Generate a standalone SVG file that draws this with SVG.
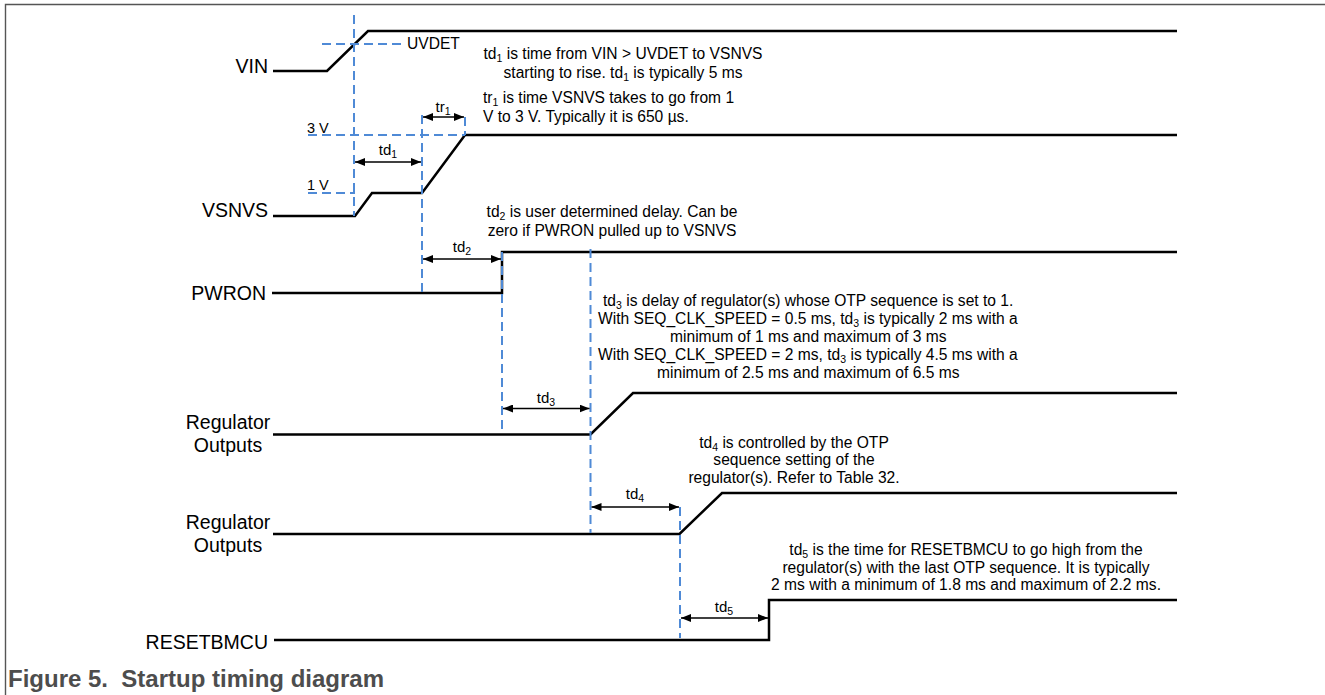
<svg xmlns="http://www.w3.org/2000/svg" width="1325" height="695" viewBox="0 0 1325 695">
<style>
.sig{fill:none;stroke:#000;stroke-width:2.5}
.dash{fill:none;stroke:#4f8ad6;stroke-width:2;stroke-dasharray:9 5}
.arr{fill:none;stroke:#000;stroke-width:1.5;marker-start:url(#ah);marker-end:url(#ah)}
.frame{fill:none;stroke:#555;stroke-width:1.4}
text{font-family:"Liberation Sans",Arial,sans-serif;fill:#000}
.lbl{font-size:19.5px;text-anchor:end}
.lblc{font-size:19.5px;text-anchor:middle}
.d{font-size:15.6px}
.c{text-anchor:middle}
.t{font-size:15px;text-anchor:middle}
.v{font-size:14.5px}
.s{font-size:10.5px}
.cap{font-size:24px;font-weight:bold;fill:#4d4d4d}
</style>
<defs>
<marker id="ah" viewBox="0 0 10 8" refX="10" refY="4" markerWidth="10" markerHeight="8" orient="auto-start-reverse" markerUnits="userSpaceOnUse"><path d="M0,0 L10,4 L0,8 z" fill="#000"/></marker>
</defs>
<rect width="1325" height="695" fill="#fff"/>
<path class="frame" d="M5.5,695 V4.5 H1325"/>

<g id="signals">
<g id="vin"><path class="sig" d="M273,71 H327 L368,31 H1177"/><text class="lbl" x="268" y="73">VIN</text></g>
<g id="vsnvs"><path class="sig" d="M273,216 H355 L372,193 H422 L465,135 H1177"/><text class="lbl" x="268" y="217">VSNVS</text></g>
<g id="pwron"><path class="sig" d="M272,293 H502 V252 H1177"/><text class="lbl" x="266" y="300">PWRON</text></g>
<g id="reg1"><path class="sig" d="M273,434.5 H590.5 L633,393 H1177"/><text class="lblc" x="228" y="429">Regulator</text><text class="lblc" x="228" y="452">Outputs</text></g>
<g id="reg2"><path class="sig" d="M273,534 H679.5 L722,493 H1177"/><text class="lblc" x="228" y="529">Regulator</text><text class="lblc" x="228" y="552">Outputs</text></g>
<g id="resetbmcu"><path class="sig" d="M274,640 H769 V600 H1177"/><text class="lbl" x="268" y="649">RESETBMCU</text></g>
</g>

<g id="guides">
<path class="dash" d="M322,44 H402"/>
<path class="dash" d="M308,135 H465"/>
<path class="dash" d="M308,193 H355"/>
<path class="dash" d="M354,15 V216"/>
<path class="dash" d="M422,115 V293"/>
<path class="dash" d="M465,117 V135"/>
<path class="dash" d="M502,252 V433"/>
<path class="dash" d="M590.5,249 V533"/>
<path class="dash" d="M680,507 V638"/>
<text class="d" x="407" y="49">UVDET</text>
<text class="v" x="307" y="133">3 V</text>
<text class="v" x="307" y="190">1 V</text>
</g>

<g id="connectors">
<line class="arr" x1="355" y1="162" x2="421" y2="162"/>
<line class="arr" x1="423" y1="117" x2="464" y2="117"/>
<line class="arr" x1="423" y1="259" x2="501" y2="259"/>
<line class="arr" x1="503" y1="408.5" x2="589.5" y2="408.5"/>
<line class="arr" x1="591.5" y1="507" x2="679" y2="507"/>
<line class="arr" x1="681" y1="618" x2="768" y2="618"/>
<text class="t" x="388" y="155">td<tspan class="s" dy="3">1</tspan></text>
<text class="t" x="443" y="112">tr<tspan class="s" dy="3">1</tspan></text>
<text class="t" x="462" y="252">td<tspan class="s" dy="3">2</tspan></text>
<text class="t" x="546" y="403">td<tspan class="s" dy="3">3</tspan></text>
<text class="t" x="635" y="499">td<tspan class="s" dy="3">4</tspan></text>
<text class="t" x="724" y="612">td<tspan class="s" dy="3">5</tspan></text>
</g>

<g id="notes">
<text class="d c" x="623" y="59">td<tspan class="s" dy="3">1</tspan><tspan dy="-3"> is time from VIN &gt; UVDET to VSNVS</tspan></text>
<text class="d c" x="623" y="78">starting to rise. td<tspan class="s" dy="3">1</tspan><tspan dy="-3"> is typically 5 ms</tspan></text>
<text class="d" x="483" y="103">tr<tspan class="s" dy="3">1</tspan><tspan dy="-3"> is time VSNVS takes to go from 1</tspan></text>
<text class="d" x="483" y="122">V to 3 V. Typically it is 650 µs.</text>
<text class="d c" x="612" y="217">td<tspan class="s" dy="3">2</tspan><tspan dy="-3"> is user determined delay. Can be</tspan></text>
<text class="d c" x="612" y="236">zero if PWRON pulled up to VSNVS</text>
<text class="d" x="603" y="306">td<tspan class="s" dy="3">3</tspan><tspan dy="-3"> is delay of regulator(s) whose OTP sequence is set to 1.</tspan></text>
<text class="d" x="598" y="324">With SEQ_CLK_SPEED = 0.5 ms, td<tspan class="s" dy="3">3</tspan><tspan dy="-3"> is typically 2 ms with a</tspan></text>
<text class="d" x="670" y="342">minimum of 1 ms and maximum of 3 ms</text>
<text class="d" x="598" y="360">With SEQ_CLK_SPEED = 2 ms, td<tspan class="s" dy="3">3</tspan><tspan dy="-3"> is typically 4.5 ms with a</tspan></text>
<text class="d" x="657" y="378">minimum of 2.5 ms and maximum of 6.5 ms</text>
<text class="d c" x="794" y="447.5">td<tspan class="s" dy="3">4</tspan><tspan dy="-3"> is controlled by the OTP</tspan></text>
<text class="d c" x="794" y="465">sequence setting of the</text>
<text class="d c" x="794" y="482.5">regulator(s). Refer to Table 32.</text>
<text class="d c" x="966" y="555">td<tspan class="s" dy="3">5</tspan><tspan dy="-3"> is the time for RESETBMCU to go high from the</tspan></text>
<text class="d c" x="966" y="572.5">regulator(s) with the last OTP sequence. It is typically</text>
<text class="d c" x="966" y="590">2 ms with a minimum of 1.8 ms and maximum of 2.2 ms.</text>
</g>

<text class="cap" x="8" y="687" xml:space="preserve">Figure 5.  Startup timing diagram</text>
</svg>
